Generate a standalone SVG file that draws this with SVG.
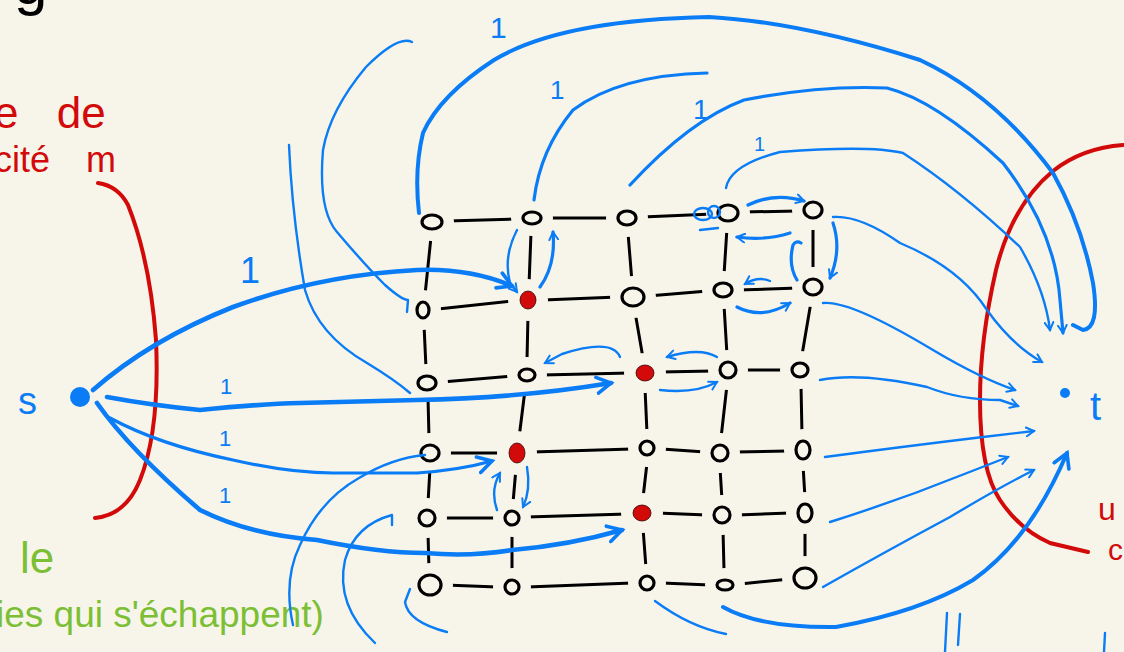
<svg xmlns="http://www.w3.org/2000/svg" width="1124" height="652" viewBox="0 0 1124 652">
<style>
.bg{fill:#f7f5ea}
.edge{stroke:#000;stroke-width:3;stroke-linecap:round;fill:none}
.node{fill:none;stroke:#000;stroke-width:3.2}
.halo{fill:#f7f5ea;stroke:#f7f5ea;stroke-width:24}
.hot{fill:#d20a0a;stroke:#300;stroke-width:0.8}
.b{fill:none;stroke:#0a7cf5;stroke-linecap:round;stroke-linejoin:round}
.thin{stroke-width:2.4}
.mid{stroke-width:3.2}
.thick{stroke-width:4.6}
.red{fill:none;stroke:#d20a0a;stroke-width:4;stroke-linecap:round}
.lbl{font-family:"Liberation Sans","DejaVu Sans",sans-serif;fill:#0a7cf5}
.rt{font-family:"Liberation Sans","DejaVu Sans",sans-serif;fill:#d20a0a}
.gt{font-family:"Liberation Sans","DejaVu Sans",sans-serif;fill:#7cbf35}
</style>
<defs>
<marker id="ah" viewBox="0 0 10 10" refX="8" refY="5" markerWidth="11" markerHeight="11" markerUnits="userSpaceOnUse" orient="auto">
<path d="M1,1 L8,5 L1,9" fill="none" stroke="#0a7cf5" stroke-width="1.8" stroke-linecap="round"/>
</marker>
<marker id="ahb" viewBox="0 0 10 10" refX="8" refY="5" markerWidth="20" markerHeight="20" markerUnits="userSpaceOnUse" orient="auto">
<path d="M1,1 L8,5 L1,9" fill="none" stroke="#0a7cf5" stroke-width="1.8" stroke-linecap="round"/>
</marker>
</defs>
<rect class="bg" x="0" y="0" width="1124" height="652"/>

<!-- cut-off texts -->
<text x="14" y="4" font-family="Liberation Sans, sans-serif" font-size="60" fill="#000">g</text>
<text class="rt" x="-6" y="128" font-size="44" word-spacing="26">e de</text>
<text class="rt" x="-6" y="172" font-size="36" word-spacing="26">cité m</text>
<text class="gt" x="20" y="573" font-size="44">le</text>
<text class="gt" x="-4" y="627" font-size="37">ies qui s'échappent)</text>
<text class="rt" x="1098" y="520" font-size="32">u</text>
<text class="rt" x="1108" y="560" font-size="30">c</text>

<!-- cut lines -->
<g id="cuts">
<path class="red" d="M98 183 Q118 186 128 205 Q150 260 156 340 Q160 430 140 480 Q126 515 95 518"/>
<path class="red" d="M1123 145 Q1082 148 1053 171 Q1012 205 996 270 Q980 340 980 400 Q980 470 1000 500 Q1020 530 1050 543 L1088 552"/>
</g>

<!-- grid edges -->
<g id="grid-edges">
<path class="edge" d="M447 221L517 219M547 218L612 218M642 217L713 214M743 212L798 211"/>
<path class="edge" d="M438 309L513 301M543 300L618 297M648 296L708 291M738 290L798 288"/>
<path class="edge" d="M442 382L512 376M542 375L630 373M660 372L713 371M743 370L785 370"/>
<path class="edge" d="M445 453L502 453M532 452L632 449M662 449L705 452M735 452L788 451"/>
<path class="edge" d="M442 518L497 518M527 517L627 514M657 513L707 515M737 515L790 513"/>
<path class="edge" d="M445 585L497 587M527 587L632 583M662 583L710 585M740 584L790 579"/>
<path class="edge" d="M431 237L425 295M424 325L426 368M428 398L429 438M430 468L428 503M428 533L429 570"/>
<path class="edge" d="M531 233L529 285M528 315L527 360M525 390L519 438M516 468L513 503M512 533L512 572"/>
<path class="edge" d="M628 233L632 282M635 312L643 358M645 388L647 433M647 463L643 498M643 528L646 568"/>
<path class="edge" d="M727 228L724 275M724 305L727 355M727 385L721 438M720 468L722 500M723 530L724 570"/>
<path class="edge" d="M813 225L813 272M811 302L802 355M801 385L802 435M803 465L805 498M805 528L805 563"/>
</g>

<!-- nodes -->
<g id="source"><circle cx="80" cy="397" r="10" fill="#0a7cf5"/><text class="lbl" x="18" y="414" font-size="38">s</text></g>
<g id="sink"><circle cx="1065" cy="393" r="5" fill="#0a7cf5"/><text class="lbl" x="1090" y="420" font-size="40">t</text></g>
<g id="n00"><ellipse class="halo" cx="432" cy="222" rx="10" ry="7"/><ellipse class="node" cx="432" cy="222" rx="10" ry="7"/></g>
<g id="n01"><ellipse class="halo" cx="532" cy="218" rx="9" ry="6"/><ellipse class="node" cx="532" cy="218" rx="9" ry="6"/></g>
<g id="n02"><ellipse class="halo" cx="627" cy="218" rx="9" ry="7"/><ellipse class="node" cx="627" cy="218" rx="9" ry="7"/></g>
<g id="n03"><ellipse class="halo" cx="728" cy="213" rx="10" ry="8"/><ellipse class="node" cx="728" cy="213" rx="10" ry="8"/></g>
<g id="n04"><ellipse class="halo" cx="813" cy="210" rx="9" ry="8"/><ellipse class="node" cx="813" cy="210" rx="9" ry="8"/></g>
<g id="n10"><ellipse class="halo" cx="423" cy="310" rx="6" ry="8"/><ellipse class="node" cx="423" cy="310" rx="6" ry="8"/></g>
<g id="n11"><ellipse class="halo" cx="528" cy="300" rx="8" ry="9"/><ellipse class="hot" cx="528" cy="300" rx="8" ry="9"/></g>
<g id="n12"><ellipse class="halo" cx="633" cy="297" rx="11" ry="9"/><ellipse class="node" cx="633" cy="297" rx="11" ry="9"/></g>
<g id="n13"><ellipse class="halo" cx="723" cy="290" rx="9" ry="7"/><ellipse class="node" cx="723" cy="290" rx="9" ry="7"/></g>
<g id="n14"><ellipse class="halo" cx="813" cy="287" rx="9" ry="8"/><ellipse class="node" cx="813" cy="287" rx="9" ry="8"/></g>
<g id="n20"><ellipse class="halo" cx="427" cy="383" rx="9" ry="7"/><ellipse class="node" cx="427" cy="383" rx="9" ry="7"/></g>
<g id="n21"><ellipse class="halo" cx="527" cy="375" rx="8" ry="6"/><ellipse class="node" cx="527" cy="375" rx="8" ry="6"/></g>
<g id="n22"><ellipse class="halo" cx="645" cy="373" rx="9" ry="8"/><ellipse class="hot" cx="645" cy="373" rx="9" ry="8"/></g>
<g id="n23"><ellipse class="halo" cx="728" cy="370" rx="8" ry="8"/><ellipse class="node" cx="728" cy="370" rx="8" ry="8"/></g>
<g id="n24"><ellipse class="halo" cx="800" cy="370" rx="8" ry="7"/><ellipse class="node" cx="800" cy="370" rx="8" ry="7"/></g>
<g id="n30"><ellipse class="halo" cx="430" cy="453" rx="9" ry="8"/><ellipse class="node" cx="430" cy="453" rx="9" ry="8"/></g>
<g id="n31"><ellipse class="halo" cx="517" cy="453" rx="8" ry="10"/><ellipse class="hot" cx="517" cy="453" rx="8" ry="10"/></g>
<g id="n32"><ellipse class="halo" cx="647" cy="448" rx="7" ry="7"/><ellipse class="node" cx="647" cy="448" rx="7" ry="7"/></g>
<g id="n33"><ellipse class="halo" cx="720" cy="453" rx="8" ry="8"/><ellipse class="node" cx="720" cy="453" rx="8" ry="8"/></g>
<g id="n34"><ellipse class="halo" cx="803" cy="450" rx="7" ry="9"/><ellipse class="node" cx="803" cy="450" rx="7" ry="9"/></g>
<g id="n40"><ellipse class="halo" cx="427" cy="518" rx="8" ry="8"/><ellipse class="node" cx="427" cy="518" rx="8" ry="8"/></g>
<g id="n41"><ellipse class="halo" cx="512" cy="518" rx="7" ry="7"/><ellipse class="node" cx="512" cy="518" rx="7" ry="7"/></g>
<g id="n42"><ellipse class="halo" cx="642" cy="513" rx="9" ry="8"/><ellipse class="hot" cx="642" cy="513" rx="9" ry="8"/></g>
<g id="n43"><ellipse class="halo" cx="722" cy="515" rx="8" ry="8"/><ellipse class="node" cx="722" cy="515" rx="8" ry="8"/></g>
<g id="n44"><ellipse class="halo" cx="805" cy="513" rx="7" ry="9"/><ellipse class="node" cx="805" cy="513" rx="7" ry="9"/></g>
<g id="n50"><ellipse class="halo" cx="430" cy="585" rx="11" ry="10"/><ellipse class="node" cx="430" cy="585" rx="11" ry="10"/></g>
<g id="n51"><ellipse class="halo" cx="512" cy="587" rx="7" ry="7"/><ellipse class="node" cx="512" cy="587" rx="7" ry="7"/></g>
<g id="n52"><ellipse class="halo" cx="647" cy="583" rx="7" ry="7"/><ellipse class="node" cx="647" cy="583" rx="7" ry="7"/></g>
<g id="n53"><ellipse class="halo" cx="725" cy="585" rx="8" ry="5"/><ellipse class="node" cx="725" cy="585" rx="8" ry="5"/></g>
<g id="n54"><ellipse class="halo" cx="805" cy="578" rx="11" ry="10"/><ellipse class="node" cx="805" cy="578" rx="11" ry="10"/></g>

<!-- connectors -->
<g id="connectors">
<path class="b thick" d="M93 390 Q150 340 233 307 Q320 275 417 270 Q470 268 512 286" marker-end="url(#ahb)"/>
<path class="b thick" d="M107 397 Q150 405 200 410 Q260 404 300 403 L417 400 Q520 398 611 383" marker-end="url(#ahb)"/>
<path class="b mid" d="M110 418 Q160 445 233 460 Q290 473 333 473 L417 473 Q460 470 492 461" marker-end="url(#ahb)"/>
<path class="b thick" d="M97 403 Q130 450 200 510 Q250 535 317 540 Q380 553 425 553 Q470 557 512 550 Q570 545 622 530" marker-end="url(#ahb)"/>

<path class="b thin" d="M289 145 Q292 215 305 290 Q318 335 367 363 Q395 380 410 393"/>
<path class="b thin" d="M412 42 Q398 35 366 67 Q330 110 323 150 Q318 210 337 232 Q365 265 385 285 Q402 300 408 300 L407 312"/>
<path class="b" stroke-width="4" d="M419 213 Q414 170 423 133 Q440 95 494 60 Q560 20 709 17 Q800 22 920 60 Q995 95 1053 173 Q1082 225 1093 283 Q1100 328 1083 330 L1073 325"/>
<path class="b mid" d="M534 200 Q540 150 573 110 Q620 75 707 73"/>
<path class="b mid" d="M630 185 Q690 120 744 100 Q820 85 887 88 Q935 100 1003 163 Q1055 230 1060 300 L1063 333" marker-end="url(#ah)"/>
<path class="b thin" d="M726 188 Q730 165 780 152 Q870 145 903 153 Q960 190 1020 247 Q1045 290 1050 330" marker-end="url(#ah)"/>
<path class="b thin" d="M833 217 Q860 215 900 243 Q960 268 987 310 Q1012 345 1042 362" marker-end="url(#ah)"/>
<path class="b thin" d="M823 303 Q850 300 933 350 Q980 378 1015 390" marker-end="url(#ah)"/>
<path class="b thin" d="M820 380 Q860 372 927 387 Q960 400 1000 400 L1018 406" marker-end="url(#ah)"/>
<path class="b thin" d="M825 457 Q900 447 983 437 L1034 431" marker-end="url(#ah)"/>
<path class="b thin" d="M830 522 Q900 500 967 473 L1008 457" marker-end="url(#ah)"/>
<path class="b thin" d="M823 587 Q883 553 950 517 Q1000 487 1034 470" marker-end="url(#ah)"/>
<path class="b" stroke-width="4" d="M723 607 Q760 628 836 627 Q920 612 973 580 Q1030 540 1067 453" marker-end="url(#ahb)"/>

<path class="b thin" d="M293 625 Q283 580 300 545 Q320 500 359 478 Q392 458 425 455"/>
<path class="b thin" d="M375 643 Q335 605 345 560 Q355 525 392 515 L392 525"/>
<path class="b thin" d="M447 632 Q408 622 405 602 L410 589"/>
<path class="b thin" d="M655 601 Q690 627 726 634"/>
<path class="b thin" d="M945 652 L947 613 M958 645 L960 614 M1104 652 L1105 633"/>

<path class="b thin" d="M517 230 Q503 257 510 283 L517 292" marker-end="url(#ah)"/>
<path class="b mid" d="M540 287 Q556 265 553 232" marker-end="url(#ah)"/>
<ellipse class="b thin" cx="703" cy="214" rx="9" ry="6"/>
<ellipse class="b thin" cx="714" cy="212" rx="6" ry="6"/>
<path class="b thin" d="M700 230 L718 228"/>
<path class="b mid" d="M748 205 Q775 192 804 201" marker-end="url(#ah)"/>
<path class="b mid" d="M790 233 Q765 241 737 237" marker-end="url(#ah)"/>
<path class="b mid" d="M797 280 Q788 265 793 245 Q796 240 801 243"/>
<path class="b mid" d="M833 223 Q842 250 830 278" marker-end="url(#ah)"/>
<path class="b thin" d="M770 281 Q758 276 745 284" marker-end="url(#ah)"/>
<path class="b mid" d="M737 307 Q762 320 790 303" marker-end="url(#ah)"/>
<path class="b thin" d="M620 357 Q612 338 562 354 L545 363" marker-end="url(#ah)"/>
<path class="b thin" d="M717 357 Q700 347 667 357" marker-end="url(#ah)"/>
<path class="b thin" d="M660 390 Q695 394 717 382" marker-end="url(#ah)"/>
<path class="b thin" d="M497 510 Q490 490 500 473" marker-end="url(#ah)"/>
<path class="b thin" d="M527 467 Q531 490 523 507" marker-end="url(#ah)"/>
</g>

<!-- capacity labels -->
<g id="labels">
<text class="lbl" x="490" y="38" font-size="30">1</text>
<text class="lbl" x="550" y="99" font-size="26">1</text>
<text class="lbl" x="693" y="119" font-size="28">1</text>
<text class="lbl" x="754" y="151" font-size="20">1</text>
<text class="lbl" x="240" y="283" font-size="36">1</text>
<text class="lbl" x="220" y="394" font-size="22">1</text>
<text class="lbl" x="219" y="446" font-size="22">1</text>
<text class="lbl" x="219" y="503" font-size="22">1</text>
</g>
</svg>
